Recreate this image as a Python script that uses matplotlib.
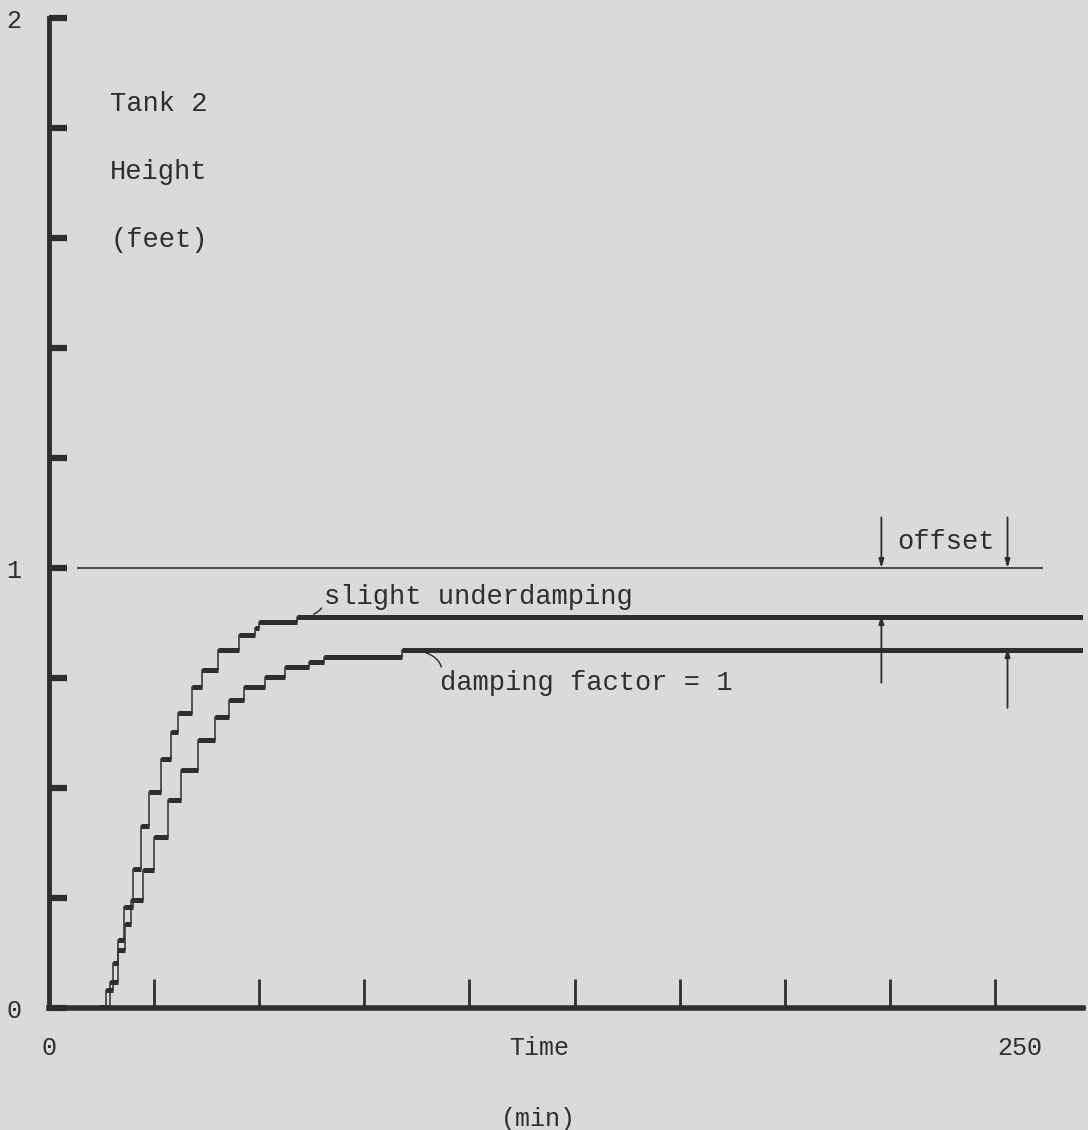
import numpy as np
import matplotlib.pyplot as plt

# tank 2 height response
t_under = [11.9, 13.6, 15.3, 16.5, 17.9, 20.0, 21.9, 23.9, 26.7, 29.1, 30.8, 33.9,
           36.3, 40.3, 45.1, 48.9, 50.0, 59.0, 246.0]
h_under = [0.002, 0.041, 0.102, 0.155, 0.23, 0.316, 0.414, 0.491, 0.566, 0.627, 0.670, 0.730,
           0.768, 0.814, 0.848, 0.864, 0.877, 0.889, 0.889]

t_crit = [12.4, 14.5, 16.5, 18.0, 19.6, 22.4, 25.0, 28.4, 31.5, 35.5, 39.4, 42.7,
          46.5, 51.3, 56.1, 61.8, 65.4, 84.0, 246.0]
h_crit = [0.002, 0.06, 0.132, 0.19, 0.245, 0.314, 0.389, 0.473, 0.541, 0.609, 0.661, 0.700,
          0.730, 0.752, 0.775, 0.786, 0.798, 0.814, 0.814]

setpoint = 1.0
setpoint_span = [6.7, 236.4]
offset_t = [198.0, 228.0]          # where the offset arrows are drawn
offset_h = [0.889, 0.814]

x_ticks = [25, 50, 75, 100, 125, 150, 175, 200, 225]
y_ticks = [0, 0.25, 0.5, 0.75, 1.0, 1.2, 1.4, 1.6, 1.8, 2.0]
y_labels = ['0', '', '', '', '1', '', '', '', '', '2']

ink = '#2e2e2e'
paper = '#dadad8'
plt.rcParams['font.family'] = ['Liberation Mono', 'DejaVu Sans Mono']


# the printed scale is stretched above 1 ft
def fwd(y):
    y = np.asarray(y, dtype=float)
    return np.where(y <= 1, 0.8 * y, 0.8 + (y - 1))


def inv(u):
    u = np.asarray(u, dtype=float)
    return np.where(u <= 0.8, u / 0.8, 1 + (u - 0.8))


W, H = 1088, 1130
fig = plt.figure(figsize=(W / 100, H / 100), dpi=100, facecolor=paper)
ax = fig.add_axes([49 / W, (H - 1008) / H, (1083 - 49) / W, 990 / H])
ax.set_facecolor(paper)
ax.set_yscale('function', functions=(fwd, inv))
ax.set_xlim(0, (1083 - 50) / 4.2)
ax.set_ylim(0, 2)

# printer-style curves: thin risers, heavy horizontal dashes
for t, h in [(t_under, h_under), (t_crit, h_crit)]:
    ax.step(t, h, where='post', color=ink, lw=1.1)
    ax.hlines(h[:-1], t[:-1], t[1:], color=ink, lw=3.6)
ax.hlines(setpoint, *setpoint_span, color=ink, lw=1.2)

for s in ['top', 'right']:
    ax.spines[s].set_visible(False)
ax.spines['left'].set_linewidth(3.5)
ax.spines['bottom'].set_linewidth(4)
ax.spines['left'].set_color(ink)
ax.spines['bottom'].set_color(ink)

ax.set_xticks(x_ticks, labels=[''] * len(x_ticks))
ax.set_yticks(y_ticks, labels=y_labels)
ax.yaxis.set_minor_locator(plt.NullLocator())
ax.tick_params(axis='x', direction='in', length=21, width=2, color=ink)
ax.tick_params(axis='y', direction='in', length=13, width=4.5, color=ink,
               pad=20, labelsize=18, labelcolor=ink)

tx = ax.get_xaxis_transform()
ax.text(0, -0.04, '0', transform=tx, ha='center', va='center', fontsize=18, color=ink)
ax.text(231, -0.04, '250', transform=tx, ha='center', va='center', fontsize=18, color=ink)
ax.text(116.5, -0.04, 'Time', transform=tx, ha='center', va='center', fontsize=18, color=ink)
ax.text(116.5, -0.112, '(min)', transform=tx, ha='center', va='center', fontsize=18, color=ink)

for yy, s in zip([0.913, 0.844, 0.776], ['Tank 2', 'Height', '(feet)']):
    ax.text(0.059, yy, s, transform=ax.transAxes, ha='left', va='center',
            fontsize=19.5, color=ink)

ax.annotate('slight underdamping', xy=(63.0, 0.895), xytext=(65.5, 0.935),
            ha='left', va='center', fontsize=19.5, color=ink,
            arrowprops=dict(arrowstyle='-', color=ink, lw=1.1,
                            connectionstyle='arc3,rad=-0.45', shrinkA=0, shrinkB=0,
                            relpos=(-0.005, 0.75)))
ax.annotate('damping factor = 1', xy=(89.5, 0.808), xytext=(93.0, 0.739),
            ha='left', va='center', fontsize=19.5, color=ink,
            arrowprops=dict(arrowstyle='-', color=ink, lw=1,
                            connectionstyle='arc3,rad=0.5', shrinkA=0, shrinkB=0,
                            relpos=(0, 0.5)))

# offset markers
arrow = dict(arrowstyle='-|>,head_length=0.5,head_width=0.15', color=ink, lw=1.3,
             shrinkA=0, shrinkB=0)
for t0, h0, low in zip(offset_t, offset_h, [0.739, 0.682]):
    ax.annotate('', xy=(t0, setpoint), xytext=(t0, 1.092), arrowprops=arrow)
    ax.annotate('', xy=(t0, h0 + 0.004), xytext=(t0, low), arrowprops=arrow)
ax.text(213.3, 1.047, 'offset', ha='center', va='center', fontsize=19.5, color=ink)

fig.savefig('out.png', dpi=100, facecolor=paper)
